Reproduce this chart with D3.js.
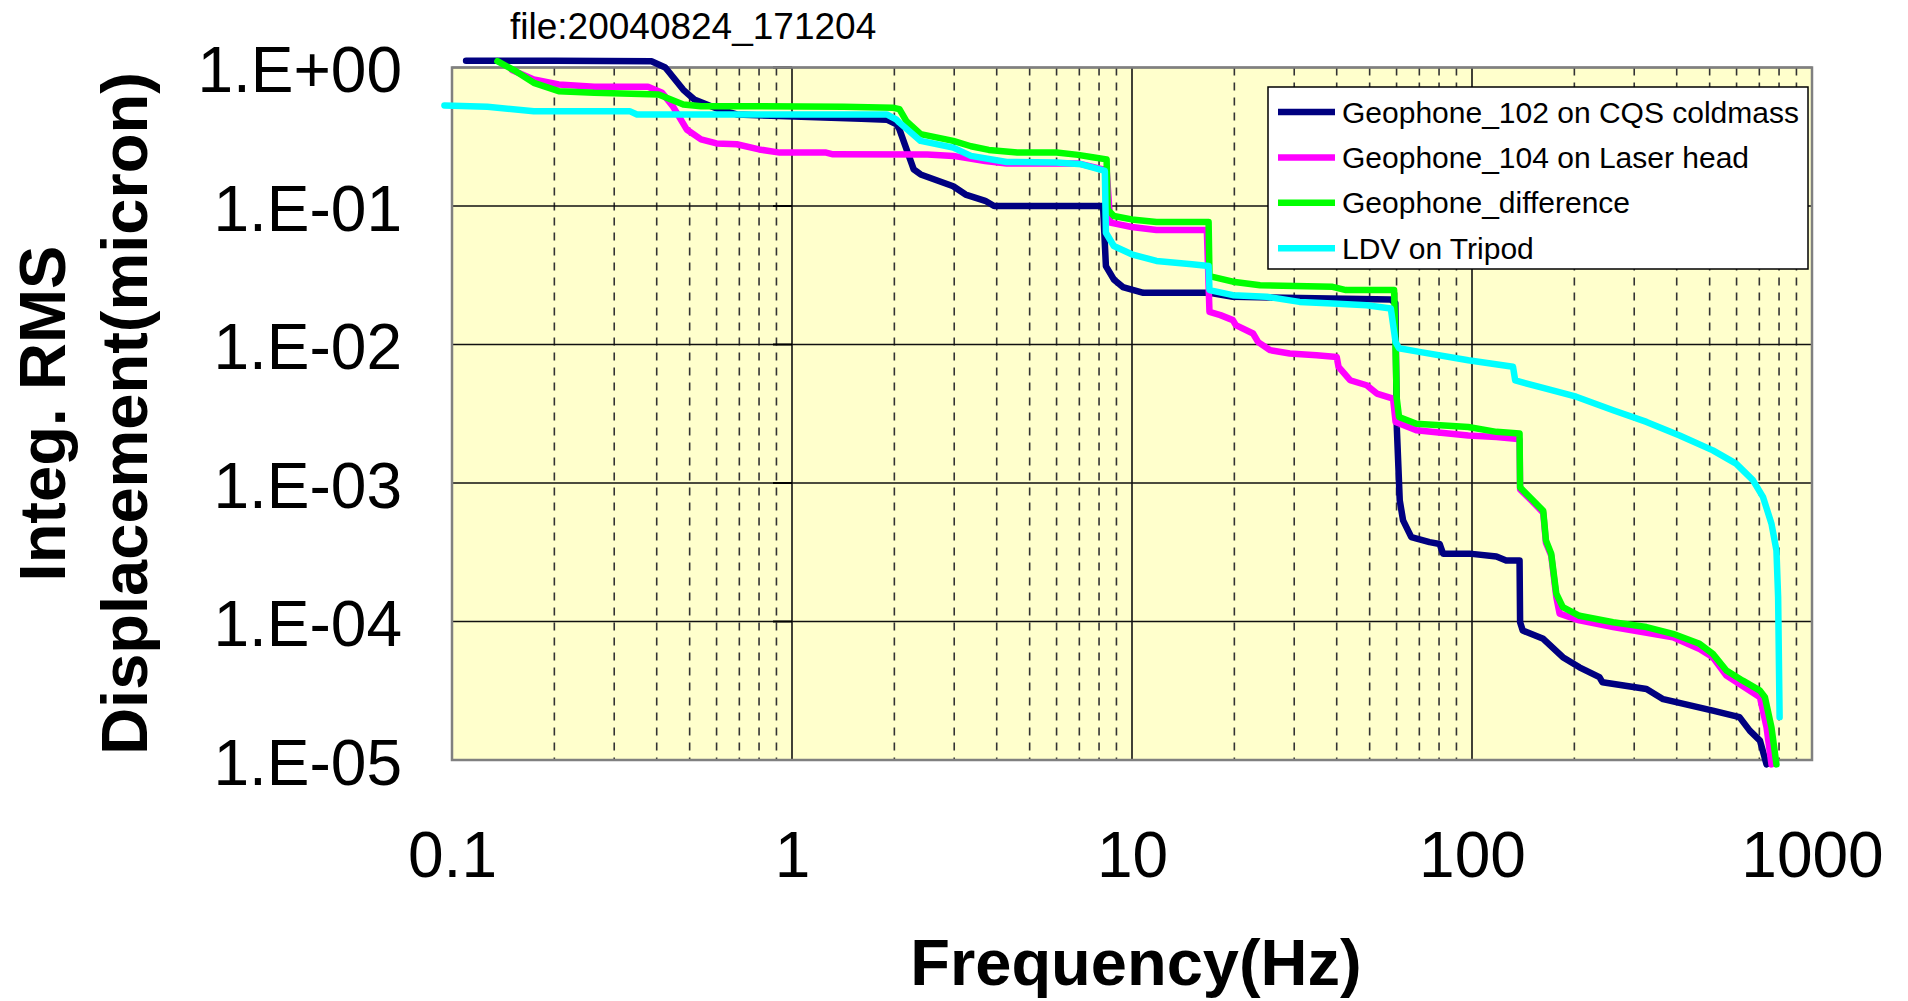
<!DOCTYPE html>
<html>
<head>
<meta charset="utf-8">
<script src="https://cdn.jsdelivr.net/npm/d3@7/dist/d3.min.js"></script>
<style>
  body { margin: 0; background: #fff; }
  text { font-family: "Liberation Sans", Arial, sans-serif; fill: #000; }
</style>
</head>
<body>
<script>
// frequency (Hz), integrated RMS displacement (micron)
const geo102 = [
  [0.11, 1.12], [0.2, 1.12], [0.386, 1.11], [0.424, 1.0], [0.479, 0.69], [0.516, 0.587],
  [0.611, 0.498], [0.688, 0.458], [0.919, 0.446], [1.12, 0.44], [1.6, 0.426], [1.9, 0.42],
  [2.03, 0.388], [2.07, 0.358], [2.28, 0.184], [2.39, 0.169], [2.98, 0.139], [3.24, 0.121],
  [3.7, 0.109], [3.93, 0.1], [8.22, 0.1], [8.38, 0.0368], [8.84, 0.0295], [9.4, 0.026],
  [10.8, 0.0236], [16.9, 0.0236], [19.8, 0.0221], [57.7, 0.0211], [59.5, 0.02],
  [60.1, 0.0025], [61.3, 0.00075], [62.7, 0.000537], [66.3, 0.000407], [75, 0.000374],
  [80.3, 0.000363], [82.2, 0.000309], [98.4, 0.000309], [118, 0.000295], [126, 0.000276],
  [138, 0.000276], [138.5, 0.0000988], [141, 0.000086], [162, 0.000075], [185, 0.0000552],
  [207, 0.0000467], [237, 0.0000397], [242, 0.0000364], [326, 0.0000326], [365, 0.0000275],
  [511, 0.0000227], [612, 0.0000204], [656, 0.0000163], [703, 0.0000138], [735, 0.0000093]
];

const geo104 = [
  [0.15, 0.96], [0.174, 0.82], [0.206, 0.754], [0.262, 0.726], [0.377, 0.726], [0.415, 0.656],
  [0.446, 0.526], [0.49, 0.357], [0.54, 0.303], [0.6, 0.283], [0.688, 0.279], [0.8, 0.256],
  [0.92, 0.243], [1.26, 0.243], [1.32, 0.236], [2.5, 0.235], [2.98, 0.23], [3.7, 0.211],
  [4.28, 0.203], [6.94, 0.203], [8.22, 0.184], [8.42, 0.184], [8.63, 0.0758], [9.98, 0.0705],
  [11.8, 0.0671], [16.6, 0.0671], [16.9, 0.0172], [18.2, 0.0163], [19.8, 0.015], [20.2, 0.0138],
  [22.7, 0.012], [23.5, 0.0104], [25.5, 0.0091], [29.1, 0.0086], [34.9, 0.00837], [40.0, 0.00813],
  [40.5, 0.00689], [43.8, 0.00552], [49, 0.00508], [52.5, 0.00442], [58.6, 0.00407],
  [59.6, 0.00276], [68.6, 0.0024], [97.5, 0.0022], [118, 0.00215], [134, 0.00209], [138, 0.00205],
  [138.5, 0.0009], [151, 0.00073], [162, 0.00061], [165, 0.00037], [171, 0.0003], [177, 0.00015],
  [181, 0.000114], [207, 0.000102], [260, 0.0000912], [390, 0.000077], [467, 0.0000634],
  [511, 0.0000552], [560, 0.0000407], [703, 0.0000284], [735, 0.0000172], [760, 0.0000093]
];

const geoDiff = [
  [0.136, 1.11], [0.154, 0.94], [0.174, 0.775], [0.206, 0.675], [0.262, 0.656], [0.405, 0.638],
  [0.479, 0.541], [0.54, 0.526], [0.688, 0.526], [1.42, 0.52], [1.98, 0.512], [2.07, 0.5],
  [2.17, 0.41], [2.39, 0.33], [2.98, 0.295], [3.36, 0.27], [3.79, 0.254], [4.6, 0.243],
  [6.0, 0.243], [6.94, 0.234], [7.74, 0.224], [8.42, 0.217], [8.48, 0.0946], [8.84, 0.0847],
  [9.98, 0.08], [11.8, 0.0766], [16.8, 0.0766], [16.9, 0.0312], [19.8, 0.0284], [23.8, 0.0268],
  [38.9, 0.0261], [42.6, 0.0247], [59.0, 0.0247], [59.6, 0.0099], [60.0, 0.00418], [61, 0.003],
  [68.6, 0.00268], [97.5, 0.00254], [118, 0.00234], [138, 0.00228], [138.5, 0.00093],
  [151, 0.00075], [162, 0.00063], [165, 0.000385], [171, 0.000309], [177, 0.000159],
  [185, 0.000127], [207, 0.00011], [260, 0.0000988], [326, 0.0000912], [390, 0.0000815],
  [467, 0.000069], [511, 0.0000584], [560, 0.0000443], [626, 0.0000374], [703, 0.0000317],
  [727, 0.0000284], [760, 0.0000172], [786, 0.0000093]
];

const ldv = [
  [0.095, 0.532], [0.127, 0.52], [0.174, 0.484], [0.333, 0.484], [0.35, 0.458], [1.9, 0.458],
  [2.03, 0.42], [2.07, 0.4], [2.39, 0.295], [2.98, 0.264], [3.36, 0.23], [4.28, 0.208],
  [6, 0.206], [7.1, 0.2], [8.32, 0.179], [8.38, 0.0641], [8.84, 0.0514], [9.98, 0.0448],
  [11.8, 0.0401], [15, 0.038], [16.8, 0.0369], [16.9, 0.0247], [19.8, 0.0227], [24.9, 0.0221],
  [31.1, 0.0203], [38.9, 0.0198], [49, 0.0192], [57.7, 0.0182], [59.6, 0.0104], [61, 0.0094],
  [70, 0.00885], [97.5, 0.0077], [132, 0.0069], [134, 0.0055], [165, 0.0048], [202.5, 0.0042],
  [260, 0.00335], [326, 0.00276], [408, 0.0022], [511, 0.00172], [598, 0.00138], [670, 0.00105],
  [718, 0.00079], [760, 0.000508], [786, 0.000326], [795, 0.00015], [803, 0.0000204]
];

const seriesNames = [
  "Geophone_102 on CQS coldmass",
  "Geophone_104 on Laser head",
  "Geophone_difference",
  "LDV on Tripod"
];
const seriesData = [geo102, geo104, geoDiff, ldv];
const seriesColors = ["#000080", "#ff00ff", "#00ff00", "#00ffff"];

const xTicks = [0.1, 1, 10, 100, 1000];
const yTicks = [1, 1e-1, 1e-2, 1e-3, 1e-4, 1e-5];
const yTickLabels = ["1.E+00", "1.E-01", "1.E-02", "1.E-03", "1.E-04", "1.E-05"];

const fileLabel = "file:20040824_171204";

window.onload = () => {
  const W = 1908, H = 1001;
  const plot = { left: 452, right: 1812, top: 67.5, bottom: 760 };

  const svg = d3.select("body").append("svg")
    .attr("width", W)
    .attr("height", H);

  const x = d3.scaleLog().domain([0.1, 1000]).range([plot.left, plot.right]);
  const y = d3.scaleLog().domain([1e-5, 1]).range([plot.bottom, plot.top]);

  // plot background
  svg.append("rect")
    .attr("x", plot.left).attr("y", plot.top)
    .attr("width", plot.right - plot.left)
    .attr("height", plot.bottom - plot.top)
    .attr("fill", "#ffffcc");

  // minor dashed verticals at 2..9 of each decade
  var minor = [];
  xTicks.slice(0, -1).forEach(d => {
    for (var k = 2; k <= 9; ++k) minor.push(d * k);
  });
  svg.append("g").selectAll("line").data(minor).join("line")
    .attr("x1", d => x(d)).attr("x2", d => x(d))
    .attr("y1", plot.top).attr("y2", plot.bottom)
    .attr("stroke", "#333")
    .attr("stroke-width", 1.6)
    .attr("stroke-dasharray", "8,7");

  // major grid
  svg.append("g").selectAll("line").data(xTicks).join("line")
    .attr("x1", d => x(d)).attr("x2", d => x(d))
    .attr("y1", plot.top).attr("y2", plot.bottom)
    .attr("stroke", "#111").attr("stroke-width", 1.6);
  svg.append("g").selectAll("line").data(yTicks).join("line")
    .attr("x1", plot.left).attr("x2", plot.right)
    .attr("y1", d => y(d)).attr("y2", d => y(d))
    .attr("stroke", "#111").attr("stroke-width", 1.6);

  // value axis crosses at 1 Hz, with outside ticks
  svg.append("g").selectAll("line").data(yTicks).join("line")
    .attr("x1", x(1) - 19).attr("x2", x(1))
    .attr("y1", d => y(d)).attr("y2", d => y(d))
    .attr("stroke", "#000").attr("stroke-width", 2);

  svg.append("rect")
    .attr("x", plot.left).attr("y", plot.top)
    .attr("width", plot.right - plot.left)
    .attr("height", plot.bottom - plot.top)
    .attr("fill", "none")
    .attr("stroke", "#808080")
    .attr("stroke-width", 2.5);

  // tick labels through d3 axes
  const xAxis = d3.axisBottom(x)
    .tickValues(xTicks)
    .tickFormat(d => d < 1 ? "0.1" : d3.format("d")(d))
    .tickSize(0);
  const gx = svg.append("g")
    .attr("transform", "translate(0," + plot.bottom + ")")
    .call(xAxis);
  gx.select(".domain").remove();
  gx.selectAll("text")
    .attr("y", 117).attr("dy", 0)
    .attr("font-size", 64)
    .style("font-family", '"Liberation Sans", Arial, sans-serif');

  const yAxis = d3.axisLeft(y)
    .tickValues(yTicks)
    .tickFormat((d, i) => yTickLabels[i])
    .tickSize(0);
  const gy = svg.append("g")
    .attr("transform", "translate(" + plot.left + ",0)")
    .call(yAxis);
  gy.select(".domain").remove();
  gy.selectAll("text")
    .attr("x", -50).attr("dy", 24)
    .attr("font-size", 64)
    .style("font-family", '"Liberation Sans", Arial, sans-serif');

  // series
  const line = d3.line()
    .x(d => x(d[0]))
    .y(d => y(d[1]));
  svg.append("g").selectAll("path").data(seriesData).join("path")
    .attr("d", d => line(d))
    .attr("fill", "none")
    .attr("stroke", (d, i) => seriesColors[i])
    .attr("stroke-width", 6.5)
    .attr("stroke-linejoin", "round")
    .attr("stroke-linecap", "round");

  // legend
  const lg = svg.append("g");
  lg.append("rect")
    .attr("x", 1268).attr("y", 87)
    .attr("width", 540).attr("height", 182)
    .attr("fill", "#fff")
    .attr("stroke", "#000")
    .attr("stroke-width", 1.5);
  const items = lg.selectAll("g").data(seriesNames).join("g")
    .attr("transform", (d, i) => "translate(1278," + (112 + i * 45.4) + ")");
  items.append("line")
    .attr("x1", 0).attr("x2", 57)
    .attr("stroke", (d, i) => seriesColors[i])
    .attr("stroke-width", 6.5);
  items.append("text")
    .attr("x", 64).attr("dy", 10.5)
    .attr("font-size", 30)
    .text(d => d);

  // titles
  svg.append("text")
    .attr("x", 510).attr("y", 39)
    .attr("font-size", 37)
    .text(fileLabel);

  svg.append("text")
    .attr("x", 1136).attr("y", 985)
    .attr("text-anchor", "middle")
    .attr("font-size", 65)
    .attr("font-weight", "bold")
    .text("Frequency(Hz)");

  const yTitle = ["Integ. RMS", "Displacement(micron)"];
  svg.append("g").selectAll("text").data(yTitle).join("text")
    .attr("transform", (d, i) => "translate(" + (65 + i * 82) + ",413.5) rotate(-90)")
    .attr("text-anchor", "middle")
    .attr("font-size", 65)
    .attr("font-weight", "bold")
    .text(d => d);
}
</script>
</body>
</html>
